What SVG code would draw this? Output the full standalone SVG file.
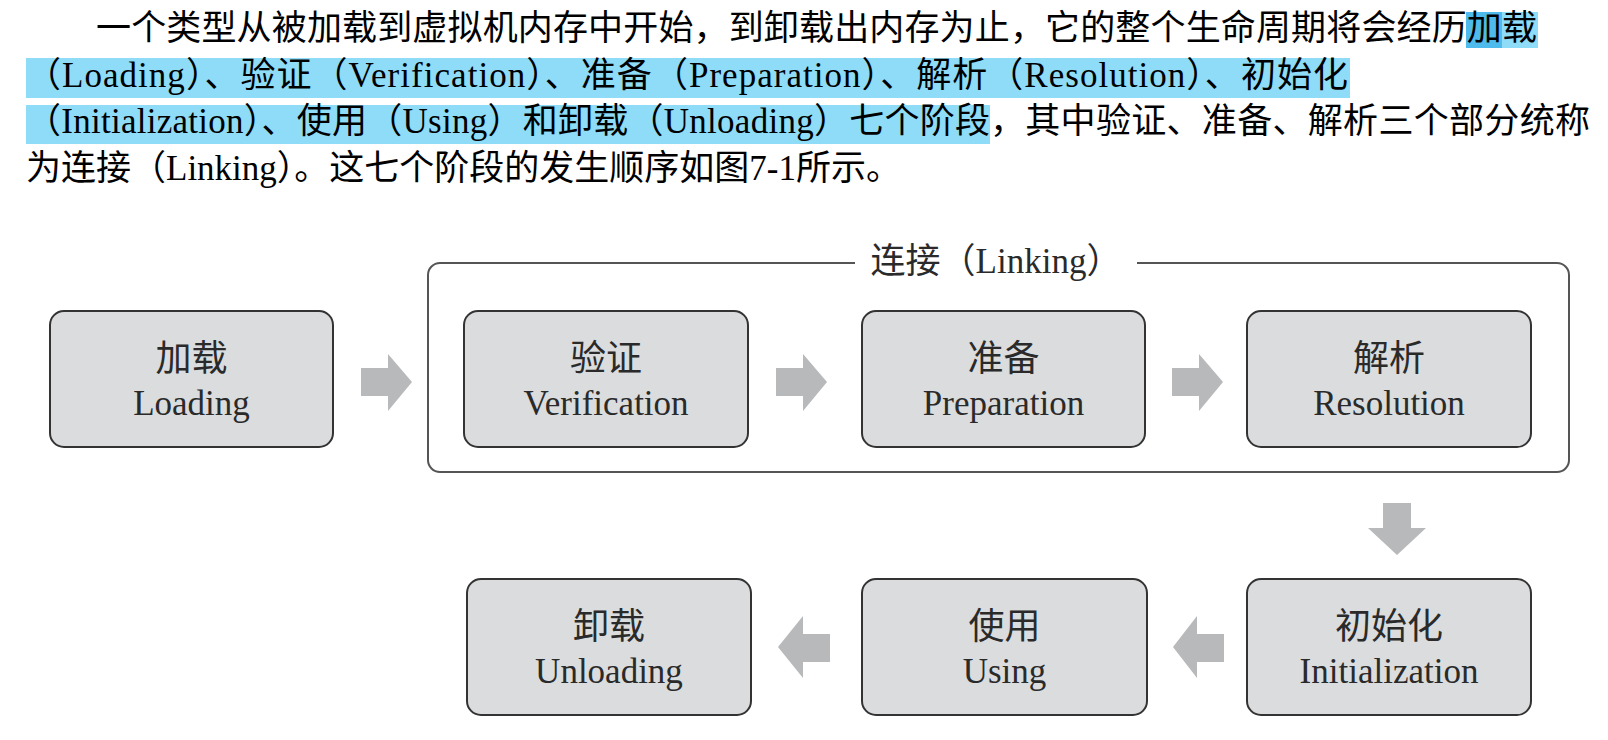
<svg xmlns="http://www.w3.org/2000/svg" width="1608" height="740" viewBox="0 0 1608 740">
<style>
.para{font-family:"Liberation Serif","Noto Sans CJK SC",serif;font-size:35px;fill:#000}
.hl{fill:#8edcf8}
.hld{fill:#4fbbec}
.box{fill:#dadcde;stroke:#333;stroke-width:2}
.cn{font-family:"Noto Sans CJK SC",sans-serif;font-size:36px;fill:#2a2a2a;text-anchor:middle}
.en{font-family:"Liberation Serif",serif;font-size:35px;fill:#2a2a2a;text-anchor:middle}
.title{font-family:"Liberation Serif","Noto Sans CJK SC",serif;font-size:35px;fill:#2a2a2a;text-anchor:middle}
.outer{fill:none;stroke:#555;stroke-width:2}
.arr{fill:#b7b9bb}
</style>
<rect width="1608" height="740" fill="#fff"/>
<g id="paragraph">
<rect class="hld" x="1466" y="12" width="36" height="36"/>
<rect class="hl" x="1502" y="12" width="36" height="36"/>
<rect class="hl" x="26" y="58" width="1324" height="40"/>
<rect class="hl" x="26" y="105" width="964" height="39"/>
<text class="para" x="96" y="40" textLength="1441" lengthAdjust="spacing">一个类型从被加载到虚拟机内存中开始，到卸载出内存为止，它的整个生命周期将会经历加载</text>
<text class="para" x="26" y="87" textLength="1322" lengthAdjust="spacing">（Loading）、验证（Verification）、准备（Preparation）、解析（Resolution）、初始化</text>
<text class="para" x="26" y="133" textLength="964" lengthAdjust="spacing">（Initialization）、使用（Using）和卸载（Unloading）七个阶段</text>
<text class="para" x="990" y="133" textLength="600" lengthAdjust="spacing">，其中验证、准备、解析三个部分统称</text>
<text class="para" x="26" y="180">为连接（Linking）。这七个阶段的发生顺序如图7-1所示。</text>
</g>
<g id="linking">
<path class="outer" d="M855,263 H440 A12,12 0 0 0 428,275 V460 A12,12 0 0 0 440,472 H1557 A12,12 0 0 0 1569,460 V275 A12,12 0 0 0 1557,263 H1137"/>
<text class="title" x="996" y="273">连接（Linking）</text>
</g>
<g id="loading">
<rect class="box" x="50" y="311" width="283" height="136" rx="14"/>
<text class="cn" x="191.5" y="371">加载</text>
<text class="en" x="191.5" y="415">Loading</text>
</g>
<g id="verification">
<rect class="box" x="464" y="311" width="284" height="136" rx="14"/>
<text class="cn" x="606" y="371">验证</text>
<text class="en" x="606" y="415">Verification</text>
</g>
<g id="preparation">
<rect class="box" x="862" y="311" width="283" height="136" rx="14"/>
<text class="cn" x="1003.5" y="371">准备</text>
<text class="en" x="1003.5" y="415">Preparation</text>
</g>
<g id="resolution">
<rect class="box" x="1247" y="311" width="284" height="136" rx="14"/>
<text class="cn" x="1389" y="371">解析</text>
<text class="en" x="1389" y="415">Resolution</text>
</g>
<g id="initialization">
<rect class="box" x="1247" y="579" width="284" height="136" rx="14"/>
<text class="cn" x="1389" y="639">初始化</text>
<text class="en" x="1389" y="683">Initialization</text>
</g>
<g id="using">
<rect class="box" x="862" y="579" width="285" height="136" rx="14"/>
<text class="cn" x="1004.5" y="639">使用</text>
<text class="en" x="1004.5" y="683">Using</text>
</g>
<g id="unloading">
<rect class="box" x="467" y="579" width="284" height="136" rx="14"/>
<text class="cn" x="609" y="639">卸载</text>
<text class="en" x="609" y="683">Unloading</text>
</g>
<g id="connectors">
<polygon class="arr" points="361,368 388,368 388,354 412,382 388,411 388,396 361,396"/>
<polygon class="arr" points="776,368 803,368 803,354 827,382 803,411 803,396 776,396"/>
<polygon class="arr" points="1172,368 1199,368 1199,354 1223,382 1199,411 1199,396 1172,396"/>
<polygon class="arr" points="1383,503 1411,503 1411,528 1426,528 1397,555 1368,528 1383,528"/>
<polygon class="arr" points="1224,634 1197,634 1197,616 1173,647 1197,678 1197,662 1224,662"/>
<polygon class="arr" points="830,634 803,634 803,616 778,647 803,678 803,662 830,662"/>
</g>
</svg>
